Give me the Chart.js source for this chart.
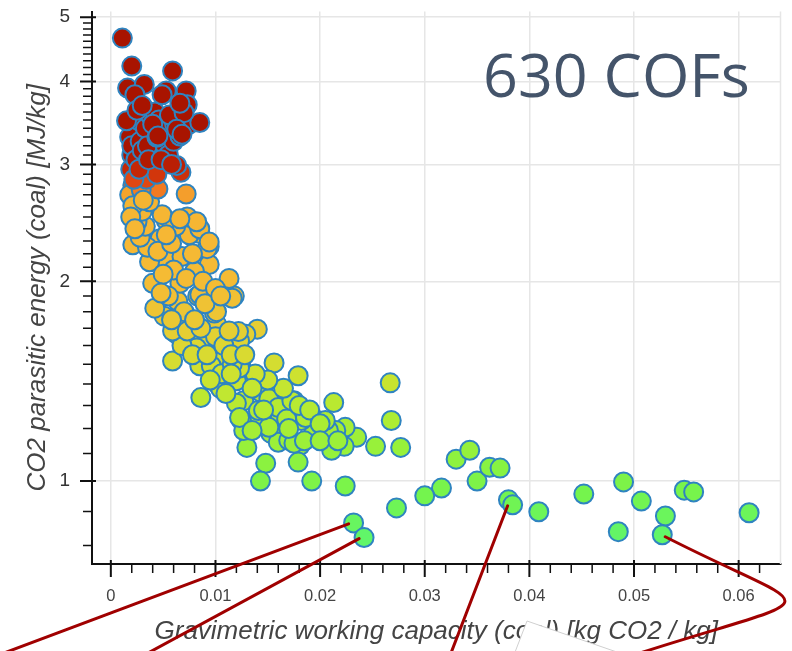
<!DOCTYPE html>
<html>
<head>
<meta charset="utf-8">
<script src="https://cdn.jsdelivr.net/npm/chart.js@4.4.1/dist/chart.umd.min.js"></script>
<style>
html,body{margin:0;padding:0;background:#fff}
canvas{display:block}
</style>
</head>
<body>
<canvas id="cofs" width="792" height="651"></canvas>
<script>
// gravimetric working capacity [kg CO2 / kg] and parasitic energy [MJ/kg], one entry per COF
const capacity = [
  0.0253,0.0277,0.0330,0.0343,0.0316,0.0300,0.0273,0.0350,0.0362,0.0372,0.0380,0.0384,0.0409,0.0452,
  0.0490,0.0507,0.0485,0.0530,0.0527,0.0548,0.0557,0.0610,0.0267,0.0268,0.0224,0.0232,0.0242,
  0.0235,0.0224,0.0223,0.0213,0.0211,0.0215,0.0192,0.0148,0.0143,0.0181,0.0179,0.0130,0.0179,0.0175,
  0.0194,0.0156,0.0144,0.0124,0.0127,0.0162,0.0153,0.0160,0.0170,0.0137,0.0194,0.0208,0.0182,0.0175,
  0.0125,0.0186,0.0151,0.0141,0.0151,0.0160,0.0173,0.0134,0.0120,0.0127,0.0205,0.0120,0.0102,0.0146,
  0.0168,0.0180,0.0190,0.0200,0.0170,0.0185,0.0200,0.0217,0.0165,0.0150,0.0138,
  0.0105,0.0086,0.0106,0.0085,0.0059,0.0101,0.0116,0.0140,0.0129,0.0097,0.0075,0.0063,0.0096,0.0110,
  0.0135,0.0123,0.0135,0.0123,0.0106,0.0123,0.0086,0.0082,0.0116,0.0122,0.0068,0.0078,0.0092,0.0100,
  0.0108,0.0115,0.0095,0.0115,0.0128,
  0.0051,0.0059,0.0073,0.0086,0.0113,0.0099,0.0101,0.0042,0.0064,0.0083,0.0118,0.0116,0.0085,0.0040,
  0.0066,0.0113,0.0039,0.0053,0.0068,0.0094,0.0080,0.0094,0.0085,0.0047,0.0021,0.0092,0.0037,0.0060,
  0.0050,0.0072,0.0088,0.0100,0.0055,0.0048,0.0070,0.0080,0.0058,0.0090,0.0105,0.0035,0.0045,0.0058,
  0.0078,0.0028,0.0075,0.0062,0.0033,
  0.0053,0.0073,0.0085,0.0049,0.0025,0.0082,0.0066,0.0053,0.0094,0.0030,0.0037,0.0072,0.0045,0.0021,
  0.0067,0.0063,0.0040,0.0025,0.0018,0.0021,0.0019,0.0023,0.0029,0.0031,0.0034,0.0044,0.0019,0.0022,
  0.0018,0.0020,0.0020,0.0024,0.0026,0.0028,0.0030,0.0027,0.0033,0.0035,0.0036,0.0038,0.0042,0.0046,
  0.0050,0.0052,0.0055,0.0048,0.0058,0.0060,0.0061,0.0064,0.0068,0.0075,0.0044,0.0066,
  0.0011,0.0020,0.0059,0.0016,0.0032,0.0023,0.0053,0.0072,0.0049,0.0073,0.0015,0.0085,0.0040,0.0056,
  0.0070,0.0025,0.0063,0.0045,0.0068,0.0030,0.0066
]
const energy = [
  1.128,1.124,1.079,1.113,0.976,0.950,0.911,1.000,1.049,1.046,0.937,0.921,0.899,0.956,
  0.997,0.933,0.839,0.886,0.830,0.969,0.963,0.896,1.406,1.234,0.983,0.865,0.822,
  1.164,1.205,1.128,1.313,1.113,1.192,1.000,1.064,1.000,1.132,1.068,1.124,1.441,1.322,
  1.243,1.507,1.359,1.500,1.322,1.247,1.180,1.144,1.152,1.213,1.200,1.192,1.234,1.140,
  1.234,1.247,1.205,1.277,1.331,1.291,1.322,1.406,1.416,1.192,1.234,1.310,1.400,1.280,
  1.240,1.300,1.280,1.220,1.200,1.150,1.150,1.150,1.380,1.420,1.450,
  1.378,1.336,1.517,1.492,1.517,1.724,1.671,1.694,1.665,1.609,1.724,1.665,1.492,1.355,
  1.380,1.247,1.192,1.480,1.451,1.626,1.626,1.587,1.500,1.680,1.600,1.550,1.550,1.650,
  1.600,1.550,1.420,1.450,1.550,
  1.772,1.683,1.683,1.700,1.683,1.791,1.800,1.822,1.866,1.900,1.900,1.886,1.910,1.986,
  1.986,2.020,2.157,2.157,2.180,2.120,2.070,2.256,2.360,2.318,2.270,2.240,2.140,2.080,
  2.050,2.020,2.000,1.950,1.900,1.920,1.800,1.750,1.750,1.850,1.900,2.250,2.220,2.280,
  2.200,2.330,2.350,2.420,2.420,
  2.470,2.500,2.400,2.520,2.459,2.459,2.485,2.350,2.293,2.550,2.635,2.708,2.755,2.790,
  2.920,2.990,2.990,2.890,2.700,2.600,2.500,2.400,2.750,2.650,2.850,2.900,2.950,2.850,
  3.300,3.100,3.200,3.050,3.500,3.250,3.150,2.950,3.400,3.200,3.050,3.550,3.600,3.500,
  3.400,3.200,3.100,3.050,3.000,3.250,3.450,3.550,3.500,3.450,3.296,3.310,
  4.65,4.22,4.15,3.91,3.96,3.82,3.87,3.87,3.82,3.69,3.49,3.47,3.45,3.56,
  3.59,3.62,3.39,3.31,3.33,3.68,3.71
]

const xTicks = [0, 0.01, 0.02, 0.03, 0.04, 0.05, 0.06]
const xTickLabels = ['0', '0.01', '0.02', '0.03', '0.04', '0.05', '0.06']
const xMinorTicks = [0.002,0.004,0.006,0.008,0.012,0.014,0.016,0.018,0.022,0.024,0.026,0.028,
  0.032,0.034,0.036,0.038,0.042,0.044,0.046,0.048,0.052,0.054,0.056,0.058,0.062]
const yTicks = [1, 2, 3, 4, 5]
const yTickLabels = ['1', '2', '3', '4', '5']
const yMinorTicks = [0.8,0.9,1.1,1.2,1.3,1.4,1.5,1.6,1.7,1.8,1.9,2.1,2.2,2.3,2.4,2.5,2.6,2.7,2.8,2.9,
  3.1,3.2,3.3,3.4,3.5,3.6,3.7,3.8,3.9,4.1,4.2,4.3,4.4,4.5,4.6,4.7,4.8,4.9]

// the four COFs pointed out by the red callouts
const calloutCapacity = [0.0232, 0.0242, 0.0384, 0.0527]
const calloutEnergy = [0.865, 0.822, 0.921, 0.830]

// colour ramp against parasitic energy
const ramp = [[0.8,[94,246,110]],[0.95,[116,244,78]],[1.1,[146,242,60]],[1.25,[176,236,50]],
  [1.45,[206,226,48]],[1.6,[222,214,50]],[1.75,[234,200,52]],[1.95,[244,188,52]],[2.3,[246,184,52]],
  [2.68,[245,180,50]],[2.76,[241,118,32]],[2.86,[222,66,16]],[2.96,[192,36,6]],[3.1,[168,20,0]]]

function heat(v) {
  if (v <= ramp[0][0]) return 'rgb(' + ramp[0][1].join(',') + ')'
  for (let i = 1; i < ramp.length; i++) {
    if (v <= ramp[i][0]) {
      const [a, ca] = ramp[i - 1], [b, cb] = ramp[i]
      const t = (v - a) / (b - a)
      return 'rgb(' + ca.map((c, k) => Math.round(c + (cb[k] - c) * t)).join(',') + ')'
    }
  }
  return 'rgb(' + ramp[ramp.length - 1][1].join(',') + ')'
}

const extras = {
  id: 'extras',
  beforeDatasetsDraw(chart) {
    const {ctx, chartArea: a} = chart
    ctx.save()
    ctx.strokeStyle = '#e6e6e6'
    ctx.lineWidth = 1.5
    ctx.beginPath()
    ctx.moveTo(a.right, a.top)
    ctx.lineTo(a.right, a.bottom)
    ctx.stroke()
    ctx.restore()
  },
  afterDraw(chart) {
    const {ctx, chartArea: a, scales: {x, y}} = chart
    ctx.save()
    // axis tick marks
    ctx.strokeStyle = '#111'
    ctx.lineWidth = 2
    ctx.beginPath()
    yTicks.forEach(v => { const p = y.getPixelForValue(v); ctx.moveTo(a.left - 12, p); ctx.lineTo(a.left + 4, p) })
    xTicks.forEach(v => { const p = x.getPixelForValue(v); ctx.moveTo(p, a.bottom - 4); ctx.lineTo(p, a.bottom + 13) })
    ctx.stroke()
    ctx.lineWidth = 1.5
    ctx.beginPath()
    yMinorTicks.forEach(v => { const p = y.getPixelForValue(v); ctx.moveTo(a.left - 9, p); ctx.lineTo(a.left, p) })
    xMinorTicks.forEach(v => { const p = x.getPixelForValue(v); ctx.moveTo(p, a.bottom); ctx.lineTo(p, a.bottom + 9) })
    ctx.stroke()

    // label
    ctx.fillStyle = '#44546a'
    ctx.font = '61px "Open Sans"'
    ctx.textBaseline = 'alphabetic'
    ctx.fillText('630 COFs', 483, 97)

    // white paper scrap over the axis title
    ctx.fillStyle = '#fff'
    ctx.strokeStyle = '#d0d0d0'
    ctx.lineWidth = 1
    ctx.beginPath()
    ctx.moveTo(512, 660)
    ctx.lineTo(527, 621)
    ctx.lineTo(640, 660)
    ctx.closePath()
    ctx.fill()
    ctx.beginPath()
    ctx.moveTo(512, 660)
    ctx.lineTo(527, 621)
    ctx.lineTo(640, 660)
    ctx.stroke()

    // callouts
    const px = calloutCapacity.map(v => x.getPixelForValue(v))
    const py = calloutEnergy.map(v => y.getPixelForValue(v))
    ctx.strokeStyle = '#a00000'
    ctx.lineWidth = 3
    ctx.lineCap = 'round'
    const ends = [[4, 653], [148, 653], [451, 653]]
    ctx.beginPath()
    for (let i = 0; i < 3; i++) {
      ctx.moveTo(px[i] - 5, py[i] + 1)
      ctx.lineTo(ends[i][0], ends[i][1])
    }
    ctx.moveTo(px[3] + 3, py[3] + 2)
    ctx.bezierCurveTo(822, 617, 836, 590, 640, 653)
    ctx.stroke()
    ctx.restore()
  }
}

new Chart(document.getElementById('cofs'), {
  type: 'scatter',
  data: {
    datasets: [{
      data: capacity.map((c, i) => ({x: c, y: energy[i]})),
      backgroundColor: ctx => heat(ctx.raw ? ctx.raw.y : 1),
      borderColor: '#2f84c0',
      borderWidth: 2,
      pointRadius: 9.5
    }]
  },
  options: {
    responsive: false,
    animation: false,
    events: [],
    layout: {padding: {top: 6, right: 7, left: 0, bottom: 0}},
    plugins: {legend: {display: false}, tooltip: {enabled: false}},
    scales: {
      x: {
        type: 'linear',
        min: -0.0018,
        max: 0.064,
        afterBuildTicks: s => { s.ticks = xTicks.map(v => ({value: v})) },
        afterFit: s => { s.height = 87; s.paddingLeft = 0; s.paddingRight = 0 },
        ticks: {
          callback: (v, i) => xTickLabels[i],
          padding: 23,
          color: '#444',
          font: {family: 'Liberation Sans', size: 16.5},
          maxRotation: 0,
          autoSkip: false
        },
        grid: {color: '#e6e6e6', lineWidth: 1.5, drawTicks: false},
        border: {display: true, color: '#111', width: 2},
        title: {
          display: true,
          text: 'Gravimetric working capacity (coal) [kg CO2 / kg]',
          color: '#444',
          font: {family: 'Liberation Sans', size: 26, style: 'italic'},
          padding: {top: 0, bottom: 4}
        }
      },
      y: {
        type: 'logarithmic',
        min: 0.75,
        max: 5.1,
        afterBuildTicks: s => { s.ticks = yTicks.map(v => ({value: v})) },
        afterFit: s => { s.width = 92; s.paddingTop = 0; s.paddingBottom = 0 },
        ticks: {
          callback: (v, i) => yTickLabels[i],
          padding: 22,
          color: '#333',
          font: {family: 'Liberation Sans', size: 19},
          autoSkip: false
        },
        grid: {color: '#e6e6e6', lineWidth: 1.5, drawTicks: false},
        border: {display: true, color: '#111', width: 2},
        title: {
          display: true,
          text: 'CO2 parasitic energy (coal) [MJ/kg]',
          color: '#444',
          font: {family: 'Liberation Sans', size: 26, style: 'italic'},
          padding: {top: 22, bottom: 0}
        }
      }
    }
  },
  plugins: [extras]
})
</script>
</body>
</html>
